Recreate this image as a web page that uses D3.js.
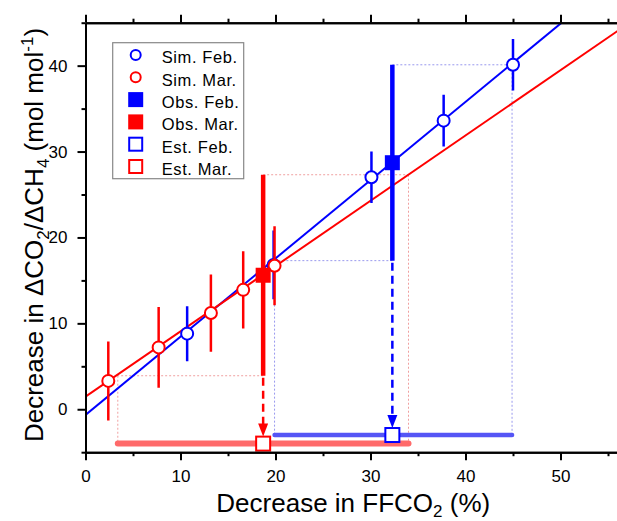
<!DOCTYPE html>
<html>
<head>
<meta charset="utf-8">
<script src="https://cdn.jsdelivr.net/npm/d3@7"></script>
<style>
  body { margin: 0; background: #fff; }
  svg { display: block; font-family: "Liberation Sans", Arial, sans-serif; }
</style>
</head>
<body>
<div id="chart"></div>
<script>
// simulated ratios (Feb / Mar)
var simFebX = [10.7, 19.8, 30.1, 37.7, 45.0];
var simFebY = [8.8, 16.8, 27.0, 33.6, 40.1];
var simFebErr = [3.2, 4.0, 3.0, 3.0, 3.0];
var simMarX = [2.4, 7.7, 13.2, 16.6, 19.9];
var simMarY = [3.3, 7.2, 11.2, 13.9, 16.7];
var simMarErr = [4.6, 4.7, 4.5, 4.5, 4.6];

// observed values, index 0 = Feb, 1 = Mar
var months = ["Feb.", "Mar."];
var obsX = [32.3, 18.7];
var obsY = [28.7, 15.6];
var obsErr = [11.4, 11.7];

// estimated FFCO2 decrease and its range
var estX = [32.3, 18.7];
var estY = [-3.0, -4.0];
var estLo = [19.9, 3.4];
var estHi = [44.9, 34.0];

// regression lines
var fitIntercept = [-0.66, 1.47];
var fitSlope = [0.911, 0.760];

var colors = ["#0000ff", "#ff0000"];
var guideColors = ["#9999ee", "#f0a0a0"];
var bandColors = ["#5555f5", "#ff6a6a"];

var xTicks = [0, 10, 20, 30, 40, 50];
var xMinor = [5, 15, 25, 35, 45, 55];
var yTicks = [0, 10, 20, 30, 40];
var yMinor = [-5, 5, 15, 25, 35, 45];

var width = 617, height = 521;

var svg = d3.select("#chart").append("svg")
  .attr("width", width)
  .attr("height", height);

svg.append("rect").attr("width", width).attr("height", height).attr("fill", "#fff");

var x = d3.scaleLinear().domain([0, 60]).range([85.5, 655.5]);
var y = d3.scaleLinear().domain([-5, 45]).range([452.2, 22.7]);

svg.append("defs").append("clipPath").attr("id", "plotclip")
  .append("rect")
  .attr("x", x(0)).attr("y", y(45))
  .attr("width", x(60) - x(0)).attr("height", y(-5) - y(45));

var plot = svg.append("g").attr("clip-path", "url(#plotclip)");

var sims = [
  { xs: simFebX, ys: simFebY, err: simFebErr },
  { xs: simMarX, ys: simMarY, err: simMarErr }
];

// dotted guide lines from observed error ends to the fit lines and down
months.forEach(function(m, i) {
  var top = obsY[i] + obsErr[i], bot = obsY[i] - obsErr[i];
  var segs = [
    [[obsX[i], top], [estHi[i], top]],
    [[estHi[i], top], [estHi[i], estY[i]]],
    [[obsX[i], bot], [estLo[i], bot]],
    [[estLo[i], bot], [estLo[i], estY[i]]]
  ];
  segs.forEach(function(s) {
    plot.append("line")
      .attr("x1", x(s[0][0])).attr("y1", y(s[0][1]))
      .attr("x2", x(s[1][0])).attr("y2", y(s[1][1]))
      .attr("stroke", guideColors[i])
      .attr("stroke-width", 1)
      .attr("stroke-dasharray", "2,2");
  });
});

// range bands
months.forEach(function(m, i) {
  plot.append("line")
    .attr("x1", x(estLo[i])).attr("x2", x(estHi[i]))
    .attr("y1", y(estY[i])).attr("y2", y(estY[i]))
    .attr("stroke", bandColors[i])
    .attr("stroke-width", i == 0 ? 4.5 : 6)
    .attr("stroke-linecap", "round");
});

// fit lines
months.forEach(function(m, i) {
  plot.append("line")
    .attr("x1", x(0)).attr("y1", y(fitIntercept[i]))
    .attr("x2", x(60)).attr("y2", y(fitIntercept[i] + fitSlope[i] * 60))
    .attr("stroke", colors[i])
    .attr("stroke-width", 2);
});

// simulated points with error bars
sims.forEach(function(s, i) {
  var g = plot.append("g");
  g.selectAll("line")
    .data(s.xs)
    .enter().append("line")
    .attr("x1", function(d) { return x(d); })
    .attr("x2", function(d) { return x(d); })
    .attr("y1", function(d, j) { return y(s.ys[j] - s.err[j]); })
    .attr("y2", function(d, j) { return y(s.ys[j] + s.err[j]); })
    .attr("stroke", colors[i])
    .attr("stroke-width", 2.5);
  g.selectAll("circle")
    .data(s.xs)
    .enter().append("circle")
    .attr("cx", function(d) { return x(d); })
    .attr("cy", function(d, j) { return y(s.ys[j]); })
    .attr("r", 6)
    .attr("fill", "#fff")
    .attr("stroke", colors[i])
    .attr("stroke-width", 2);
});

// observed points, arrows and estimates
months.forEach(function(m, i) {
  var px = x(obsX[i]);
  plot.append("line")
    .attr("x1", px).attr("x2", px)
    .attr("y1", y(obsY[i] - obsErr[i])).attr("y2", y(obsY[i] + obsErr[i]))
    .attr("stroke", colors[i])
    .attr("stroke-width", 4.5);
  plot.append("rect")
    .attr("x", px - 7.5).attr("y", y(obsY[i]) - 7.5)
    .attr("width", 15).attr("height", 15)
    .attr("fill", colors[i]);

  // dashed arrow down to the estimate
  var ex = x(estX[i]);
  var tip = y(estY[i]) - 7;
  plot.append("line")
    .attr("x1", ex).attr("x2", ex)
    .attr("y1", y(obsY[i] - obsErr[i]) + 2).attr("y2", tip - 12)
    .attr("stroke", colors[i])
    .attr("stroke-width", 2.5)
    .attr("stroke-dasharray", "8,5");
  plot.append("path")
    .attr("d", "M" + (ex - 5) + "," + (tip - 13) + "L" + (ex + 5) + "," + (tip - 13) + "L" + ex + "," + tip + "Z")
    .attr("fill", colors[i]);

  plot.append("rect")
    .attr("x", ex - 7).attr("y", y(estY[i]) - 7)
    .attr("width", 14).attr("height", 14)
    .attr("fill", "#fff")
    .attr("stroke", colors[i])
    .attr("stroke-width", 2);
});

// axes: major and minor ticks drawn as separate calls
function styleAxis(g) {
  g.selectAll(".domain").attr("stroke", "#000").attr("stroke-width", 2);
  g.selectAll(".tick line").attr("stroke", "#000").attr("stroke-width", 2);
  g.selectAll("text").attr("font-size", 17).attr("fill", "#000")
    .attr("font-family", "Liberation Sans, Arial, sans-serif");
}

var bottomY = y(-5), topY = y(45), leftX = x(0), rightX = x(60);

svg.append("g").attr("transform", "translate(0," + bottomY + ")")
  .call(d3.axisBottom(x).tickValues(xMinor).tickSize(4).tickSizeOuter(0).tickFormat(""))
  .call(styleAxis);
svg.append("g").attr("transform", "translate(0," + bottomY + ")")
  .call(d3.axisBottom(x).tickValues(xTicks).tickSize(8).tickSizeOuter(0).tickPadding(10))
  .call(styleAxis);

svg.append("g").attr("transform", "translate(0," + topY + ")")
  .call(d3.axisTop(x).tickValues(xMinor).tickSize(4).tickSizeOuter(0).tickFormat(""))
  .call(styleAxis);
svg.append("g").attr("transform", "translate(0," + topY + ")")
  .call(d3.axisTop(x).tickValues(xTicks).tickSize(8).tickSizeOuter(0).tickFormat(""))
  .call(styleAxis);

svg.append("g").attr("transform", "translate(" + leftX + ",0)")
  .call(d3.axisLeft(y).tickValues(yMinor).tickSize(4).tickSizeOuter(0).tickFormat(""))
  .call(styleAxis);
svg.append("g").attr("transform", "translate(" + leftX + ",0)")
  .call(d3.axisLeft(y).tickValues(yTicks).tickSize(8).tickSizeOuter(0).tickPadding(10))
  .call(styleAxis);

// axis titles
var xt = svg.append("text")
  .attr("x", (x(0) + width) / 2 + 2)
  .attr("y", 512)
  .attr("text-anchor", "middle")
  .attr("font-size", 26)
  .attr("fill", "#000");
xt.append("tspan").text("Decrease in FFCO");
xt.append("tspan").attr("font-size", 17).attr("dy", 5).text("2");
xt.append("tspan").attr("dy", -5).text(" (%)");

var yt = svg.append("text")
  .attr("transform", "translate(43," + 235 + ") rotate(-90)")
  .attr("text-anchor", "middle")
  .attr("font-size", 26)
  .attr("fill", "#000");
yt.append("tspan").text("Decrease in \u0394CO");
yt.append("tspan").attr("font-size", 17).attr("dy", 6).text("2");
yt.append("tspan").attr("dy", -6).text("/\u0394CH");
yt.append("tspan").attr("font-size", 17).attr("dy", 6).text("4");
yt.append("tspan").attr("dy", -6).text(" (mol mol");
yt.append("tspan").attr("font-size", 17).attr("dy", -10).text("-1");
yt.append("tspan").attr("dy", 10).text(")");

// legend
var legendNames = ["Sim. Feb.", "Sim. Mar.", "Obs. Feb.", "Obs. Mar.", "Est. Feb.", "Est. Mar."];
var legendKind = ["circle", "circle", "filled", "filled", "open", "open"];

var legend = svg.append("g");
legend.append("rect")
  .attr("x", 112.7).attr("y", 42.7)
  .attr("width", 131).attr("height", 136)
  .attr("fill", "#fff")
  .attr("stroke", "#888")
  .attr("stroke-width", 1.2);

var item = legend.selectAll(".item")
  .data(legendNames)
  .enter().append("g")
  .attr("class", "item")
  .attr("transform", function(d, i) { return "translate(135.7," + (55 + i * 22.3) + ")"; });

item.each(function(d, i) {
  var g = d3.select(this);
  var c = colors[i % 2];
  if (legendKind[i] == "circle") {
    g.append("circle").attr("r", 5).attr("fill", "#fff").attr("stroke", c).attr("stroke-width", 2);
  } else if (legendKind[i] == "filled") {
    g.append("rect").attr("x", -7.5).attr("y", -7.5).attr("width", 15).attr("height", 15).attr("fill", c);
  } else {
    g.append("rect").attr("x", -6.5).attr("y", -6.5).attr("width", 13).attr("height", 13)
      .attr("fill", "#fff").attr("stroke", c).attr("stroke-width", 2);
  }
  g.append("text")
    .attr("x", 26)
    .attr("y", 8.3)
    .attr("font-size", 16.5)
    .attr("letter-spacing", 0.6)
    .attr("fill", "#000")
    .text(d);
});
</script>
</body>
</html>
